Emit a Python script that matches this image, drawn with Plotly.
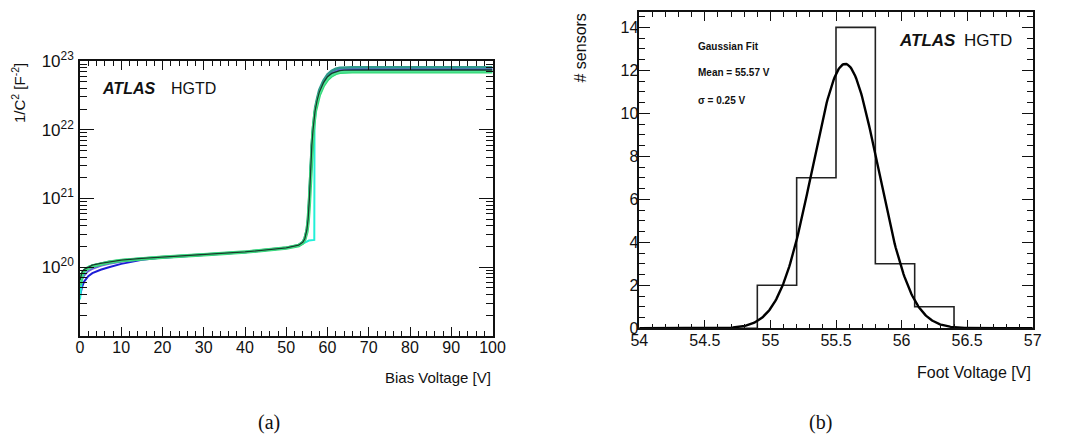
import plotly.graph_objects as go
import numpy as np

# page offset (body margin) compensation
OFF = 8
W, H = 1068 - OFF, 437 - OFF

# ---------------- Panel (a): 1/C^2 vs bias voltage ----------------
bias_v = [0, 0.5, 1, 2, 3, 5, 7, 10, 15, 20, 30, 40, 50, 53, 54, 54.5, 55, 55.3, 55.6,
          55.9, 56.2, 56.5, 57, 57.5, 58, 59, 60, 61, 62, 63, 64, 66, 70, 80, 90, 100]

inv_c2_blue = [3.8e19, 5.2e19, 6.2e19, 7.4e19, 8.2e19, 9.2e19, 1.0e20, 1.12e20, 1.28e20, 1.38e20,
               1.51e20, 1.65e20, 1.90e20, 2.08e20, 2.30e20, 2.60e20, 3.5e20, 5.0e20, 1.0e21,
               2.8e21, 6.0e21, 1.0e22, 1.9e22, 2.7e22, 3.4e22, 4.7e22, 5.8e22, 6.6e22, 7.1e22,
               7.4e22, 7.5e22, 7.55e22, 7.55e22, 7.55e22, 7.55e22, 7.55e22]
inv_c2_violet = [4.6e19, 6.6e19, 7.6e19, 8.8e19, 9.5e19, 1.05e20, 1.12e20, 1.2e20, 1.31e20, 1.39e20,
                 1.52e20, 1.66e20, 1.91e20, 2.09e20, 2.32e20, 2.62e20, 3.6e20, 5.1e20, 1.05e21,
                 2.9e21, 6.2e21, 1.05e22, 2.0e22, 2.8e22, 3.6e22, 4.9e22, 6.0e22, 6.8e22, 7.3e22,
                 7.6e22, 7.7e22, 7.75e22, 7.75e22, 7.75e22, 7.75e22, 7.75e22]
inv_c2_teal = [6.0e19, 8.2e19, 9.0e19, 1.0e20, 1.06e20, 1.13e20, 1.19e20, 1.26e20, 1.34e20, 1.41e20,
               1.53e20, 1.67e20, 1.92e20, 2.10e20, 2.32e20, 2.65e20, 3.6e20, 5.2e20, 1.1e21,
               3.0e21, 6.5e21, 1.1e22, 2.1e22, 2.9e22, 3.8e22, 5.2e22, 6.4e22, 7.2e22, 7.7e22,
               7.95e22, 8.05e22, 8.1e22, 8.1e22, 8.1e22, 8.1e22, 8.1e22]
inv_c2_green = [5.5e19, 8.0e19, 8.8e19, 9.8e19, 1.04e20, 1.12e20, 1.18e20, 1.25e20, 1.34e20, 1.40e20,
                1.52e20, 1.66e20, 1.90e20, 2.07e20, 2.25e20, 2.55e20, 3.3e20, 4.6e20, 8.5e20,
                2.4e21, 5.3e21, 9.2e21, 1.8e22, 2.5e22, 3.2e22, 4.4e22, 5.4e22, 6.1e22, 6.6e22,
                6.85e22, 6.95e22, 7.0e22, 7.0e22, 7.0e22, 7.0e22, 7.0e22]
inv_c2_lightgreen = [6.2e19, 8.4e19, 9.2e19, 1.01e20, 1.06e20, 1.13e20, 1.19e20, 1.26e20, 1.35e20, 1.41e20,
                     1.53e20, 1.67e20, 1.91e20, 2.08e20, 2.27e20, 2.57e20, 3.4e20, 4.8e20, 9.0e20,
                     2.5e21, 5.5e21, 9.5e21, 1.85e22, 2.6e22, 3.3e22, 4.5e22, 5.5e22, 6.2e22, 6.7e22,
                     6.95e22, 7.05e22, 7.1e22, 7.1e22, 7.1e22, 7.1e22, 7.1e22]
inv_c2_dark = [6.5e19, 8.5e19, 9.3e19, 1.01e20, 1.07e20, 1.14e20, 1.20e20, 1.27e20, 1.35e20, 1.41e20,
               1.53e20, 1.67e20, 1.91e20, 2.09e20, 2.30e20, 2.60e20, 3.5e20, 5.0e20, 9.8e20,
               2.7e21, 5.9e21, 1.0e22, 1.9e22, 2.7e22, 3.5e22, 4.8e22, 5.9e22, 6.6e22, 7.0e22,
               7.25e22, 7.35e22, 7.4e22, 7.4e22, 7.4e22, 7.4e22, 7.4e22]

bias_v_cyan = [0, 0.5, 1, 2, 3, 5, 7, 10, 15, 20, 30, 40, 50, 53, 54, 54.5, 55, 55.5, 56.8,
               56.85, 57.2, 57.5, 58, 59, 60, 61, 62, 63, 64, 66, 70, 80, 90, 100]
inv_c2_cyan = [3.4e19, 7.0e19, 8.5e19, 9.7e19, 1.04e20, 1.12e20, 1.18e20, 1.25e20, 1.34e20, 1.40e20,
               1.52e20, 1.66e20, 1.90e20, 2.05e20, 2.20e20, 2.30e20, 2.40e20, 2.45e20, 2.5e20,
               1.2e22, 2.0e22, 2.4e22, 3.1e22, 4.3e22, 5.3e22, 6.0e22, 6.5e22, 6.8e22, 6.9e22,
               7.0e22, 7.0e22, 7.0e22, 7.0e22, 7.0e22]

curves_a = [
    ("blue", bias_v, inv_c2_blue, "#1c1cd6", 2.0),
    ("violet", bias_v, inv_c2_violet, "#6a63d8", 2.0),
    ("teal", bias_v, inv_c2_teal, "#2f9a8c", 2.5),
    ("cyan", bias_v_cyan, inv_c2_cyan, "#22f0d8", 2.0),
    ("green", bias_v, inv_c2_green, "#36d877", 3.5),
    ("lightgreen", bias_v, inv_c2_lightgreen, "#4fe596", 2.0),
    ("dark", bias_v, inv_c2_dark, "#173b2a", 1.3),
]

# ---------------- Panel (b): foot voltage histogram ----------------
bin_edges = [54.0, 54.3, 54.6, 54.9, 55.2, 55.5, 55.8, 56.1, 56.4, 56.7, 57.0]
bin_counts = [0, 0, 0, 2, 7, 14, 3, 1, 0, 0]
fit_mean = 55.57
fit_sigma = 0.25
fit_amplitude = 12.3

FONT = "Liberation Sans, Arial, sans-serif"

fig = go.Figure()

for name, xs, ys, col, lw in curves_a:
    fig.add_trace(go.Scatter(x=xs, y=ys, mode="lines", name=name,
                             line=dict(color=col, width=lw),
                             xaxis="x", yaxis="y", showlegend=False,
                             hoverinfo="skip"))

fig.add_trace(go.Scatter(x=bin_edges, y=bin_counts + [bin_counts[-1]], mode="lines",
                         line=dict(color="#222222", width=1.6, shape="hv"),
                         xaxis="x2", yaxis="y2", showlegend=False))

gx = np.linspace(bin_edges[0], bin_edges[-1], 400)
gy = fit_amplitude * np.exp(-0.5 * ((gx - fit_mean) / fit_sigma) ** 2)
fig.add_trace(go.Scatter(x=gx, y=gy, mode="lines",
                         line=dict(color="#000000", width=2.4),
                         xaxis="x2", yaxis="y2", showlegend=False))


def px(x):
    return (x - OFF) / W


def py(y):
    return 1 - (y - OFF) / H


axis_common = dict(showline=True, linecolor="#111111", linewidth=1.6, mirror="allticks",
                   ticks="inside", tickcolor="#111111", showgrid=False, zeroline=False,
                   automargin=False)

fig.update_layout(
    template="none",
    width=W, height=H,
    margin=dict(l=0, r=0, t=0, b=0, pad=0),
    paper_bgcolor="white", plot_bgcolor="white",
    xaxis=dict(domain=[px(80), px(492.5)], range=[0, 100], anchor="y",
               tickmode="linear", tick0=0, dtick=10, ticklen=9, tickwidth=1.2,
               ticklabelstandoff=-4,
               tickfont=dict(family=FONT, size=16, color="#111111"),
               minor=dict(ticks="inside", dtick=2, ticklen=5, tickcolor="#111111", tickwidth=1),
               **axis_common),
    yaxis=dict(domain=[py(336), py(61)], type="log", range=[19, 23], anchor="x",
               tickmode="array", tickvals=[1e20, 1e21, 1e22, 1e23],
               ticktext=["10<sup>20</sup>", "10<sup>21</sup>", "10<sup>22</sup>", "10<sup>23</sup>"],
               ticklen=14, tickwidth=1.2,
               ticklabelstandoff=1,
               tickfont=dict(family=FONT, size=17, color="#111111"),
               minor=dict(ticks="inside", dtick="D1", ticklen=7, tickcolor="#111111", tickwidth=1),
               **axis_common),
    xaxis2=dict(domain=[px(639.3), px(1032.7)], range=[54, 57], anchor="y2",
                tickmode="linear", tick0=54, dtick=0.5, ticklen=9, tickwidth=1.2,
                tickformat="~g", ticklabelstandoff=-3,
                tickfont=dict(family=FONT, size=16, color="#111111"),
                minor=dict(ticks="inside", dtick=0.1, ticklen=5, tickcolor="#111111", tickwidth=1),
                **axis_common),
    yaxis2=dict(domain=[py(328.3), py(12.3)], range=[0, 14.7], anchor="x2",
                tickmode="linear", tick0=0, dtick=2, ticklen=11, tickwidth=1.2,
                ticklabelstandoff=-4,
                tickfont=dict(family=FONT, size=16, color="#111111"),
                minor=dict(ticks="inside", dtick=0.5, ticklen=6, tickcolor="#111111", tickwidth=1),
                **axis_common),
)

ann = []
# axis titles
ann.append(dict(text="1/C<sup>2</sup> [F<sup>-2</sup>]", x=px(18), y=py(61), xanchor="center",
                yanchor="top", textangle=-90, font=dict(family=FONT, size=15, color="#111111")))
ann.append(dict(text="Bias Voltage [V]", x=px(493), y=py(377), xanchor="right", yanchor="middle",
                font=dict(family=FONT, size=15, color="#111111")))
ann.append(dict(text="# sensors", x=px(580), y=py(12), xanchor="center", yanchor="top",
                textangle=-90, font=dict(family=FONT, size=16, color="#111111")))
ann.append(dict(text="Foot Voltage [V]", x=px(1033), y=py(372), xanchor="right", yanchor="middle",
                font=dict(family=FONT, size=16, color="#111111")))
# ATLAS labels
ann.append(dict(text="<b><i>ATLAS</i></b>", x=px(100), y=py(89), xanchor="left", yanchor="middle",
                font=dict(family=FONT, size=16, color="#111111")))
ann.append(dict(text="HGTD", x=px(169), y=py(89), xanchor="left", yanchor="middle",
                font=dict(family=FONT, size=16, color="#111111")))
ann.append(dict(text="<b><i>ATLAS</i></b>", x=px(897), y=py(40), xanchor="left", yanchor="middle",
                font=dict(family=FONT, size=17, color="#111111")))
ann.append(dict(text="HGTD", x=px(962), y=py(40), xanchor="left", yanchor="middle",
                font=dict(family=FONT, size=17, color="#111111")))
# fit info
ann.append(dict(text="<b>Gaussian Fit</b>", x=px(696), y=py(46), xanchor="left", yanchor="middle",
                font=dict(family=FONT, size=10, color="#111111")))
ann.append(dict(text=f"<b>Mean = {fit_mean:.2f} V</b>", x=px(696), y=py(72), xanchor="left",
                yanchor="middle", font=dict(family=FONT, size=10, color="#111111")))
ann.append(dict(text=f"<b>σ = {fit_sigma:.2f} V</b>", x=px(696), y=py(100), xanchor="left",
                yanchor="middle", font=dict(family=FONT, size=10, color="#111111")))
# panel captions
ann.append(dict(text="(a)", x=px(269), y=py(422), xanchor="center", yanchor="middle",
                font=dict(family="Liberation Serif, DejaVu Serif, serif", size=20, color="#111111")))
ann.append(dict(text="(b)", x=px(820), y=py(422), xanchor="center", yanchor="middle",
                font=dict(family="Liberation Serif, DejaVu Serif, serif", size=20, color="#111111")))

for a in ann:
    a.update(xref="paper", yref="paper", showarrow=False)
fig.update_layout(annotations=ann)

fig.write_html("out.html")
